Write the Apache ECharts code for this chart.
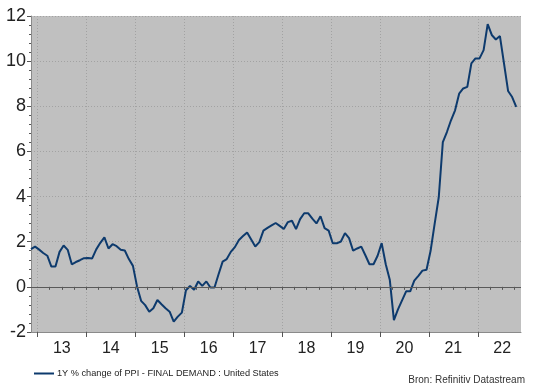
<!DOCTYPE html>
<html><head><meta charset="utf-8">
<script src="https://cdn.jsdelivr.net/npm/echarts@6/dist/echarts.min.js"></script>
<style>html,body{margin:0;padding:0;background:#fff}#c{width:535px;height:392px}</style>
</head><body><div id="c"></div>
<script>
// Monthly series, Nov 2012 .. Oct 2022 (1Y % change of US PPI final demand)
const startYear = 2012, startMonth = 11;
const ppiValues = [
  1.67, 1.78,
  1.65, 1.50, 1.38, 0.90, 0.90, 1.55, 1.83, 1.64, 1.00, 1.10, 1.18, 1.27,
  1.28, 1.26, 1.66, 1.95, 2.19, 1.70, 1.89, 1.80, 1.64, 1.61, 1.23, 0.93,
  0.02, -0.62, -0.81, -1.10, -0.95, -0.58, -0.77, -0.95, -1.10, -1.54, -1.32, -1.14,
  -0.15, 0.04, -0.13, 0.24, 0.04, 0.24, -0.03, -0.03, 0.56, 1.12, 1.23, 1.55,
  1.76, 2.08, 2.25, 2.41, 2.10, 1.79, 1.98, 2.49, 2.61, 2.72, 2.83, 2.70,
  2.56, 2.87, 2.93, 2.56, 3.00, 3.26, 3.26, 3.02, 2.81, 3.13, 2.60, 2.49,
  1.93, 1.93, 2.01, 2.38, 2.16, 1.60, 1.70, 1.78, 1.40, 1.00, 1.00, 1.38,
  1.94, 1.00, 0.30, -1.47, -1.00, -0.60, -0.20, -0.20, 0.28, 0.49, 0.72, 0.76,
  1.60, 2.80, 3.97, 6.41, 6.86, 7.38, 7.82, 8.56, 8.79, 8.86, 9.90, 10.12,
  10.12, 10.49, 11.64, 11.16, 10.96, 11.11, 9.90, 8.68, 8.41, 7.97
];
// x axis in months counted from Jan 2013
const yearTicks = [0, 12, 24, 36, 48, 60, 72, 84, 96, 108];
const yearLabels = ['13', '14', '15', '16', '17', '18', '19', '20', '21', '22'];
const yTicks = [-2, 0, 2, 4, 6, 8, 10, 12];
const seriesName = '1Y % change of PPI - FINAL DEMAND : United States';
const sourceText = 'Bron: Refinitiv Datastream';

const monthOffset = 0.43; // point placed within its month
const firstMonth = (startYear - 2013) * 12 + (startMonth - 1);
const points = ppiValues.map((v, i) => [firstMonth + i + monthOffset, v]);
const xMin = firstMonth + monthOffset, xMax = 118.6;
const labelValues = yearTicks.map(t => t + 6);
const quarterValues = [];
for (let m = 3; m < xMax; m += 3) quarterValues.push(m);

const FONT = '"Liberation Sans", Arial, sans-serif';
const chart = echarts.init(document.getElementById('c'), null, {renderer: 'canvas'});
chart.setOption({
  animation: false,
  backgroundColor: '#ffffff',
  grid: {left: 31, right: 14, top: 16, bottom: 60, show: true, backgroundColor: '#c0c0c0', borderWidth: 0, containLabel: false},
  xAxis: [{
    type: 'value', min: xMin, max: xMax,
    axisLine: {show: true, onZero: false, lineStyle: {color: '#8a8a8a', width: 1}},
    axisTick: {show: true, customValues: yearTicks, length: 5, lineStyle: {color: '#555'}},
    axisLabel: {customValues: labelValues, formatter: v => yearLabels[Math.round((v - 6) / 12)],
      color: '#222', fontSize: 16, fontFamily: FONT, margin: 9},
    splitLine: {show: true, lineStyle: {color: '#a2a2a2', type: [1, 2], width: 1}}
  }, {
    type: 'value', min: xMin, max: xMax, position: 'bottom', gridIndex: 0,
    axisLine: {show: false},
    axisTick: {show: true, customValues: quarterValues, length: 3, lineStyle: {color: '#555'}},
    axisLabel: {show: false},
    splitLine: {show: false}
  }],
  yAxis: {
    type: 'value', min: yTicks[0], max: yTicks[yTicks.length - 1], interval: 2,
    axisLine: {show: true, onZero: false, lineStyle: {color: '#8a8a8a', width: 1}},
    axisTick: {show: true, length: 4, lineStyle: {color: '#555'}},
    minorTick: {show: true, splitNumber: 5, length: 2, lineStyle: {color: '#555'}},
    axisLabel: {color: '#222', fontSize: 18, fontFamily: FONT, margin: 5},
    splitLine: {show: true, lineStyle: {color: '#a2a2a2', type: [1, 2], width: 1}}
  },
  legend: {
    show: true, left: 29, top: 364, itemWidth: 20, itemHeight: 2, icon: 'rect', itemGap: 4,
    textStyle: {fontSize: 9.2, color: '#222', fontFamily: FONT, padding: [0, 0, 0, -2]},
    data: [{name: seriesName}]
  },
  graphic: [{
    type: 'text', right: 10, top: 375,
    style: {text: sourceText, fill: '#333', font: '10px ' + FONT}
  }],
  series: [{
    name: seriesName, type: 'line', xAxisIndex: 0, data: points,
    showSymbol: false, symbol: 'none',
    lineStyle: {color: '#0d3a6d', width: 2},
    itemStyle: {color: '#0d3a6d'},
    markLine: {silent: true, symbol: 'none', label: {show: false},
      lineStyle: {color: '#5a5a5a', type: 'solid', width: 1},
      data: [{yAxis: 0}]}
  }]
});
</script></body></html>
